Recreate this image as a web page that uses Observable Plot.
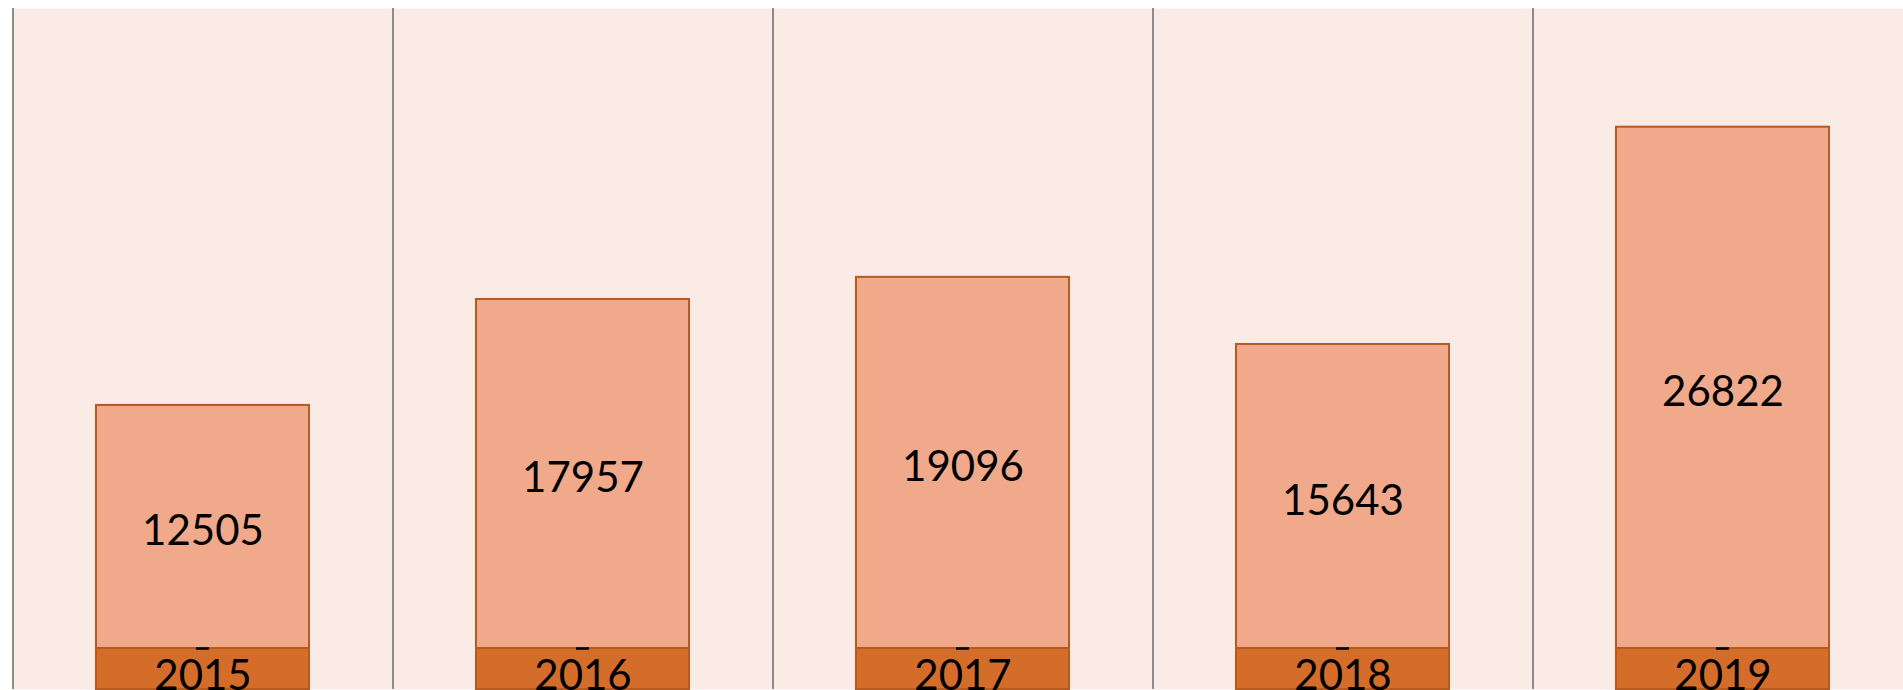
<!DOCTYPE html>
<html>
<head>
<meta charset="utf-8">
<script src="https://cdn.jsdelivr.net/npm/d3@7"></script>
<script src="https://cdn.jsdelivr.net/npm/@observablehq/plot@0.6"></script>
<style>
  html, body { margin: 0; padding: 0; background: #ffffff; overflow: hidden; }
  #chart svg { display: block; }
</style>
</head>
<body>
<div id="chart"></div>
<script>
const years = ["2015", "2016", "2017", "2018", "2019"];
const values = [12505, 17957, 19096, 15643, 26822];

const data = years.map((year, i) => ({year, value: values[i]}));

const yMin = -2110;   // depth of the year label boxes below the baseline
const yMax = 32930;

const chart = Plot.plot({
  width: 1903,
  height: 690,
  marginTop: 8,
  marginLeft: 12,
  marginRight: 0,
  marginBottom: 1,
  style: {fontFamily: "Lato, 'Open Sans', sans-serif", background: "#ffffff", overflow: "visible"},
  x: {type: "band", domain: years, range: [12, 1912], paddingInner: 0.44, paddingOuter: 0.22, axis: null},
  y: {domain: [yMin, yMax], axis: null},
  marks: [
    Plot.frame({fill: "#FAEBE7", stroke: null}),
    Plot.ruleX(years, {x: d => d, dx: -190, stroke: "#8c8c8c", strokeWidth: 2}),
    Plot.barY(data, {x: "year", y1: 0, y2: "value", fill: "#F1A98B", stroke: "#B65A1E", strokeWidth: 2}),
    Plot.barY(data, {x: "year", y1: yMin, y2: 0, fill: "#D46C2A", stroke: "#B65A1E", strokeWidth: 2}),
    Plot.tickY(data, {x: "year", y: 0, stroke: "#000000", strokeWidth: 2.5, insetLeft: 100, insetRight: 100}),
    Plot.text(data, {x: "year", y: d => d.value / 2, text: d => String(d.value), fontSize: 42, fill: "#000000", textAnchor: "middle", lineAnchor: "middle", dy: 5}),
    Plot.text(data, {x: "year", y: yMin / 2, text: "year", fontSize: 42, fill: "#000000", textAnchor: "middle", lineAnchor: "middle", dy: 8})
  ]
});
document.getElementById("chart").appendChild(chart);
</script>
</body>
</html>
